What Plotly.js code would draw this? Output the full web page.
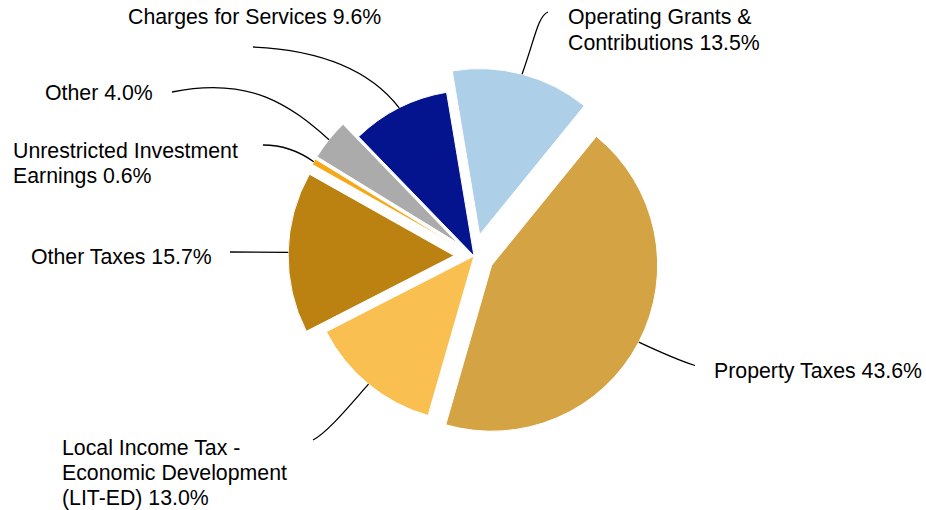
<!DOCTYPE html>
<html>
<head>
<meta charset="utf-8">
<script src="https://cdn.plot.ly/plotly-3.0.1.min.js"></script>
<style>html,body{margin:0;padding:0;background:#fff;}#chart{width:926px;height:510px;}</style>
</head>
<body>
<div id="chart"></div>
<script>
// ---- data ----
const categories = [
  "Operating Grants & Contributions",
  "Property Taxes",
  "Local Income Tax - Economic Development (LIT-ED)",
  "Other Taxes",
  "Unrestricted Investment Earnings",
  "Other",
  "Charges for Services"
];
const shares = [13.5, 43.6, 13.0, 15.7, 0.6, 4.0, 9.6];
const labelLines = [
  ["Operating Grants &", "Contributions 13.5%"],
  ["Property Taxes 43.6%"],
  ["Local Income Tax -", "Economic Development", "(LIT-ED) 13.0%"],
  ["Other Taxes 15.7%"],
  ["Unrestricted Investment", "Earnings 0.6%"],
  ["Other 4.0%"],
  ["Charges for Services 9.6%"]
];

// ---- styles / layout ----
const colors = ["#AECFE8", "#D4A444", "#F9C051", "#BC8211", "#F5A91A", "#ABABAB", "#03148E"];
const pulls = [0.133, 0.12, 0, 0.12, 0.12, 0.12, 0];
const W = 926, H = 510;
const CX = 474, CY = 256, R = 166;   // pie centre / radius in pixels
const ROT = -9.5;
const FS = 21.3, LINE = 25.3;

// label placement: left x and vertical centre of first line (pixels)
const labelPos = [
  [566, 17.5], [712, 371], [60, 447.5], [28.5, 257], [11, 150.7], [43, 93], [126, 17]
];
// leader line: [c1, c2, end] in pixels (start computed from the slice)
const leaders = [
  [[535, 38], [538, 16], [548, 12]],
  [[660, 352], [684, 362], [695, 365.5]],
  [[350, 405], [328, 432], [313, 440]],
  [[260, 252], [245, 252], [230, 252]],
  [[303, 154], [285, 145], [263, 145]],
  [[290, 105], [250, 76], [172, 92]],
  [[370, 70], [320, 50], [253, 47]]
];

const maxPull = Math.max(...pulls);
const half = R * (1 + maxPull);
const px = x => x / W, py = y => 1 - y / H;

// compute slice mid points on the arc
const total = shares.reduce((a, b) => a + b, 0);
let acc = 0;
const shapes = [];
shares.forEach((v, i) => {
  const a0 = ROT + acc / total * 360;
  acc += v;
  const a1 = ROT + acc / total * 360;
  const mid = (a0 + a1) / 2 * Math.PI / 180;
  const dx = Math.sin(mid), dy = -Math.cos(mid);
  const off = pulls[i] * R;
  const sx = CX + dx * (off + R), sy = CY + dy * (off + R);
  const [c1, c2, e] = leaders[i];
  shapes.push({
    type: "path", xref: "paper", yref: "paper",
    path: `M ${px(sx)},${py(sy)} C ${px(c1[0])},${py(c1[1])} ${px(c2[0])},${py(c2[1])} ${px(e[0])},${py(e[1])}`,
    line: {color: "#000", width: 1.3}
  });
});

const annotations = [];
labelLines.forEach((lines, i) => {
  lines.forEach((t, j) => {
    annotations.push({
      xref: "paper", yref: "paper",
      x: px(labelPos[i][0]), y: py(labelPos[i][1] + j * LINE),
      xanchor: "left", yanchor: "middle",
      text: t, showarrow: false,
      font: {family: "Liberation Sans, Arial, sans-serif", size: FS, color: "#000"}
    });
  });
});

const trace = {
  type: "pie",
  labels: categories,
  values: shares,
  sort: false,
  direction: "clockwise",
  rotation: ROT,
  pull: pulls,
  marker: {colors: colors, line: {color: "#fff", width: 1}},
  textinfo: "none",
  hoverinfo: "label+percent",
  domain: {
    x: [px(CX - half), px(CX + half)],
    y: [py(CY + half), py(CY - half)]
  }
};

Plotly.newPlot("chart", [trace], {
  width: W, height: H,
  margin: {l: 0, r: 0, t: 0, b: 0},
  showlegend: false,
  paper_bgcolor: "#fff",
  shapes: shapes,
  annotations: annotations
}, {displayModeBar: false, staticPlot: true});
</script>
</body>
</html>
